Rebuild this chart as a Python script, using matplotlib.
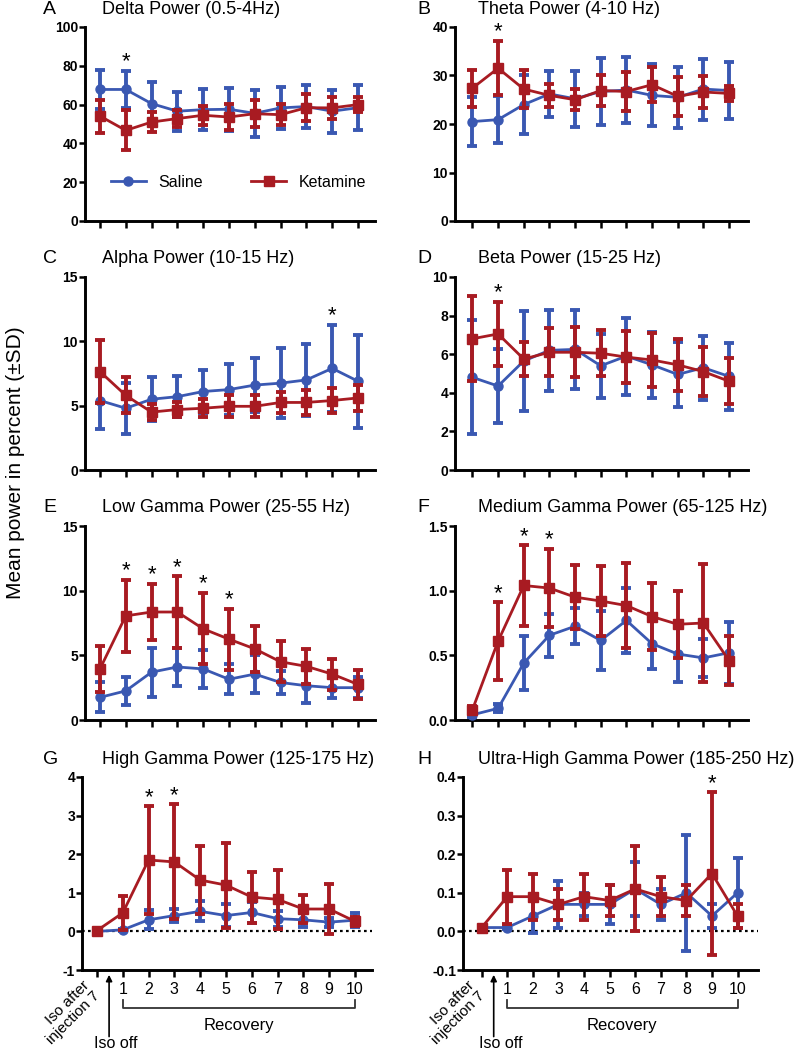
import numpy as np
import matplotlib
matplotlib.use('Agg')
import matplotlib.pyplot as plt
from matplotlib.transforms import blended_transform_factory
from matplotlib.lines import Line2D

plt.rcParams['font.family'] = ['Liberation Sans', 'DejaVu Sans']

x = np.arange(11)
recovery_labels = ['', '1', '2', '3', '4', '5', '6', '7', '8', '9', '10']

# A - delta
delta_sal = [67.8, 67.8, 60.5, 56.6, 57.4, 57.6, 55.5, 58.3, 59.0, 56.6, 58.4]
delta_sal_sd = [10.0, 9.5, 11.0, 10.0, 10.5, 11.0, 12.0, 11.0, 11.0, 11.0, 11.5]
delta_ket = [54.1, 46.7, 51.0, 52.8, 54.5, 53.6, 55.3, 54.8, 58.4, 58.3, 60.0]
delta_ket_sd = [8.5, 10.3, 5.0, 4.5, 5.0, 6.5, 7.0, 5.5, 7.0, 5.7, 4.0]

# B - theta
theta_sal = [20.5, 20.9, 24.0, 26.2, 25.2, 26.7, 27.0, 25.9, 25.5, 27.2, 26.9]
theta_sal_sd = [5.0, 4.8, 6.0, 4.8, 5.8, 7.0, 6.8, 6.4, 6.3, 6.3, 5.9]
theta_ket = [27.4, 31.5, 27.2, 25.9, 25.0, 26.9, 26.7, 28.1, 25.7, 26.6, 26.3]
theta_ket_sd = [3.8, 5.6, 4.0, 2.4, 2.2, 3.2, 4.0, 3.6, 4.0, 3.2, 1.5]

# C - alpha
alpha_sal = [5.4, 4.8, 5.5, 5.7, 6.1, 6.25, 6.6, 6.75, 7.0, 7.9, 6.9]
alpha_sal_sd = [2.2, 2.0, 1.7, 1.6, 1.7, 2.0, 2.1, 2.7, 2.8, 3.4, 3.6]
alpha_ket = [7.65, 5.8, 4.5, 4.7, 4.8, 4.95, 4.95, 5.25, 5.25, 5.4, 5.6]
alpha_ket_sd = [2.45, 1.4, 0.6, 0.6, 0.7, 0.85, 0.85, 0.85, 1.0, 0.95, 1.0]

# D - beta
beta_sal = [4.8, 4.35, 5.65, 6.2, 6.25, 5.4, 5.9, 5.45, 4.95, 5.3, 4.85]
beta_sal_sd = [2.95, 1.9, 2.6, 2.1, 2.05, 1.65, 2.0, 1.7, 1.7, 1.65, 1.75]
beta_ket = [6.8, 7.05, 5.75, 6.1, 6.1, 6.05, 5.85, 5.7, 5.45, 5.1, 4.6]
beta_ket_sd = [2.2, 1.65, 0.9, 1.25, 1.3, 1.2, 1.35, 1.4, 1.35, 1.25, 1.2]

# E - low gamma
lowg_sal = [1.75, 2.25, 3.7, 4.1, 3.95, 3.15, 3.55, 2.9, 2.65, 2.5, 2.5]
lowg_sal_sd = [1.15, 1.1, 1.9, 1.45, 1.5, 1.15, 1.45, 0.9, 1.3, 0.8, 0.8]
lowg_ket = [3.95, 8.05, 8.35, 8.35, 7.05, 6.25, 5.5, 4.5, 4.15, 3.55, 2.75]
lowg_ket_sd = [1.75, 2.8, 2.2, 2.75, 2.75, 2.35, 1.75, 1.6, 1.35, 1.2, 1.15]

# F - medium gamma
medg_sal = [0.04, 0.09, 0.44, 0.655, 0.725, 0.615, 0.77, 0.59, 0.51, 0.48, 0.52]
medg_sal_sd = [0.02, 0.03, 0.21, 0.165, 0.14, 0.225, 0.25, 0.195, 0.22, 0.15, 0.24]
medg_ket = [0.08, 0.61, 1.04, 1.02, 0.95, 0.92, 0.885, 0.80, 0.74, 0.75, 0.46]
medg_ket_sd = [0.03, 0.30, 0.31, 0.30, 0.25, 0.27, 0.33, 0.26, 0.26, 0.46, 0.19]

# G - high gamma
highg_sal = [0.0, 0.04, 0.3, 0.41, 0.52, 0.41, 0.49, 0.33, 0.3, 0.24, 0.29]
highg_sal_sd = [0.01, 0.03, 0.25, 0.17, 0.26, 0.3, 0.26, 0.21, 0.19, 0.12, 0.18]
highg_ket = [0.02, 0.48, 1.85, 1.8, 1.33, 1.2, 0.89, 0.83, 0.58, 0.58, 0.26]
highg_ket_sd = [0.02, 0.45, 1.39, 1.49, 0.87, 1.1, 0.66, 0.76, 0.37, 0.66, 0.12]

# H - ultra-high gamma
uhg_sal = [0.01, 0.01, 0.04, 0.07, 0.07, 0.07, 0.11, 0.07, 0.10, 0.04, 0.10]
uhg_sal_sd = [0.005, 0.005, 0.045, 0.06, 0.03, 0.05, 0.07, 0.04, 0.15, 0.03, 0.09]
uhg_ket = [0.01, 0.09, 0.09, 0.07, 0.09, 0.08, 0.11, 0.09, 0.08, 0.15, 0.04]
uhg_ket_sd = [0.005, 0.07, 0.06, 0.04, 0.06, 0.04, 0.11, 0.05, 0.04, 0.21, 0.03]

blue = '#3a58b2'
red = '#a81b22'

W, H = 798, 1050
fig = plt.figure(figsize=(W / 100, H / 100), dpi=100)


def px_rect(left, top, right, bottom):
    return [left / W, 1 - bottom / H, (right - left) / W, (bottom - top) / H]


def panel(rect, xlim, ylim, yticks, ylabels, sal, sal_sd, ket, ket_sd, stars,
          letter, title, letter_px, title_px, title_y, zero=False, bottom=False):
    ax = fig.add_axes(rect)
    ax.errorbar(x, sal, yerr=sal_sd, fmt='-o', color=blue, lw=2.0, ms=6.5,
                elinewidth=2.8, capsize=3.6, capthick=2.8, zorder=3, clip_on=False)
    ax.errorbar(x, ket, yerr=ket_sd, fmt='-s', color=red, lw=2.0, ms=6.5,
                elinewidth=2.8, capsize=3.6, capthick=2.8, zorder=4, clip_on=False)
    if zero:
        ax.axhline(0, color='black', lw=1.6, ls=(0, (1.2, 1.5)), zorder=1)
    for s in stars:
        top = max(sal[s] + sal_sd[s], ket[s] + ket_sd[s])
        ax.annotate('*', (s, top), xytext=(0, -1), textcoords='offset points',
                    ha='center', va='bottom', fontsize=16)
    ax.set_xlim(*xlim)
    ax.set_ylim(*ylim)
    ax.set_yticks(yticks)
    ax.set_yticklabels(ylabels, fontsize=10, fontweight='bold')
    ax.set_xticks(x)
    for side in ['top', 'right']:
        ax.spines[side].set_visible(False)
    for side in ['left', 'bottom']:
        ax.spines[side].set_linewidth(2.1)
    ax.tick_params(axis='y', direction='out', length=4, width=1.8, pad=1)
    ax.tick_params(axis='x', direction='out', length=5, width=1.8, pad=4)
    if bottom:
        ax.set_xticklabels(recovery_labels, fontsize=11.5)
        ax.annotate('Iso after\ninjection 7', xy=(0, 0), xycoords=('data', 'axes fraction'),
                    xytext=(4, -6), textcoords='offset points', rotation=45,
                    ha='right', va='top', multialignment='right', fontsize=11,
                    linespacing=1.05)
        tr = blended_transform_factory(ax.transData, ax.transAxes)
        ax.plot([1, 1, 10, 10], [-0.155, -0.197, -0.197, -0.155], color='#333333',
                lw=1.3, transform=tr, clip_on=False)
        ax.text(5.5, -0.29, 'Recovery', transform=tr, ha='center', va='center', fontsize=12)
        ax.annotate('', xy=(0.47, -0.025), xycoords=tr, xytext=(0.47, -0.345), textcoords=tr,
                    arrowprops=dict(arrowstyle='-|>', color='black', lw=1.2,
                                    mutation_scale=9, shrinkA=0, shrinkB=0))
        ax.text(-0.1, -0.38, 'Iso off', transform=tr, ha='left', va='center', fontsize=11.5)
    else:
        ax.tick_params(axis='x', labelbottom=False)
    fig.text(letter_px / W, 1 - title_y / H, letter, fontsize=14, ha='left', va='center')
    fig.text(title_px / W, 1 - title_y / H, title, fontsize=13, ha='left', va='center')
    return ax


rows = [(27, 221), (277, 470), (526, 720), (777, 970)]
title_ys = [10, 258, 508, 760]
left_lim = (-0.58, 10.66)
right_lim = (-0.68, 10.74)

axA = panel(px_rect(85, rows[0][0], 375, rows[0][1]),
            left_lim, (0, 100), [0, 20, 40, 60, 80, 100], ['0', '20', '40', '60', '80', '100'],
            delta_sal, delta_sal_sd, delta_ket, delta_ket_sd, [1],
            'A', 'Delta Power (0.5-4Hz)', 43, 102, title_ys[0])
handles = [Line2D([], [], color=blue, marker='o', lw=2.0, ms=6.5),
           Line2D([], [], color=red, marker='s', lw=2.0, ms=6.5)]
axA.legend(handles, ['Saline', 'Ketamine'], loc='center', bbox_to_anchor=(0.53, 0.2),
           ncol=2, frameon=False, fontsize=11.5, handlelength=2.2, columnspacing=3.0)

panel(px_rect(455, rows[0][0], 748, rows[0][1]), right_lim, (0, 40),
      [0, 10, 20, 30, 40], ['0', '10', '20', '30', '40'],
      theta_sal, theta_sal_sd, theta_ket, theta_ket_sd, [1],
      'B', 'Theta Power (4-10 Hz)', 417, 478, title_ys[0])

panel(px_rect(85, rows[1][0], 375, rows[1][1]), left_lim, (0, 15),
      [0, 5, 10, 15], ['0', '5', '10', '15'],
      alpha_sal, alpha_sal_sd, alpha_ket, alpha_ket_sd, [9],
      'C', 'Alpha Power (10-15 Hz)', 43, 102, title_ys[1])

panel(px_rect(455, rows[1][0], 748, rows[1][1]), right_lim, (0, 10),
      [0, 2, 4, 6, 8, 10], ['0', '2', '4', '6', '8', '10'],
      beta_sal, beta_sal_sd, beta_ket, beta_ket_sd, [1],
      'D', 'Beta Power (15-25 Hz)', 417, 478, title_ys[1])

panel(px_rect(85, rows[2][0], 375, rows[2][1]), left_lim, (0, 15),
      [0, 5, 10, 15], ['0', '5', '10', '15'],
      lowg_sal, lowg_sal_sd, lowg_ket, lowg_ket_sd, [1, 2, 3, 4, 5],
      'E', 'Low Gamma Power (25-55 Hz)', 43, 102, title_ys[2])

panel(px_rect(455, rows[2][0], 748, rows[2][1]), right_lim, (0, 1.5),
      [0, 0.5, 1.0, 1.5], ['0.0', '0.5', '1.0', '1.5'],
      medg_sal, medg_sal_sd, medg_ket, medg_ket_sd, [1, 2, 3],
      'F', 'Medium Gamma Power (65-125 Hz)', 417, 478, title_ys[2])

panel(px_rect(82, rows[3][0], 372, rows[3][1]), left_lim, (-1, 4),
      [-1, 0, 1, 2, 3, 4], ['-1', '0', '1', '2', '3', '4'],
      highg_sal, highg_sal_sd, highg_ket, highg_ket_sd, [2, 3],
      'G', 'High Gamma Power (125-175 Hz)', 43, 102, title_ys[3], zero=True, bottom=True)

panel(px_rect(463, rows[3][0], 758, rows[3][1]), (-0.73, 10.8), (-0.1, 0.4),
      [-0.1, 0, 0.1, 0.2, 0.3, 0.4], ['-0.1', '0.0', '0.1', '0.2', '0.3', '0.4'],
      uhg_sal, uhg_sal_sd, uhg_ket, uhg_ket_sd, [9],
      'H', 'Ultra-High Gamma Power (185-250 Hz)', 417, 478, title_ys[3], zero=True, bottom=True)

fig.text(0.02, 1 - 463 / H, 'Mean power in percent (\u00b1SD)', rotation=90,
         ha='center', va='center', fontsize=15)

fig.savefig('out.png', dpi=100)
